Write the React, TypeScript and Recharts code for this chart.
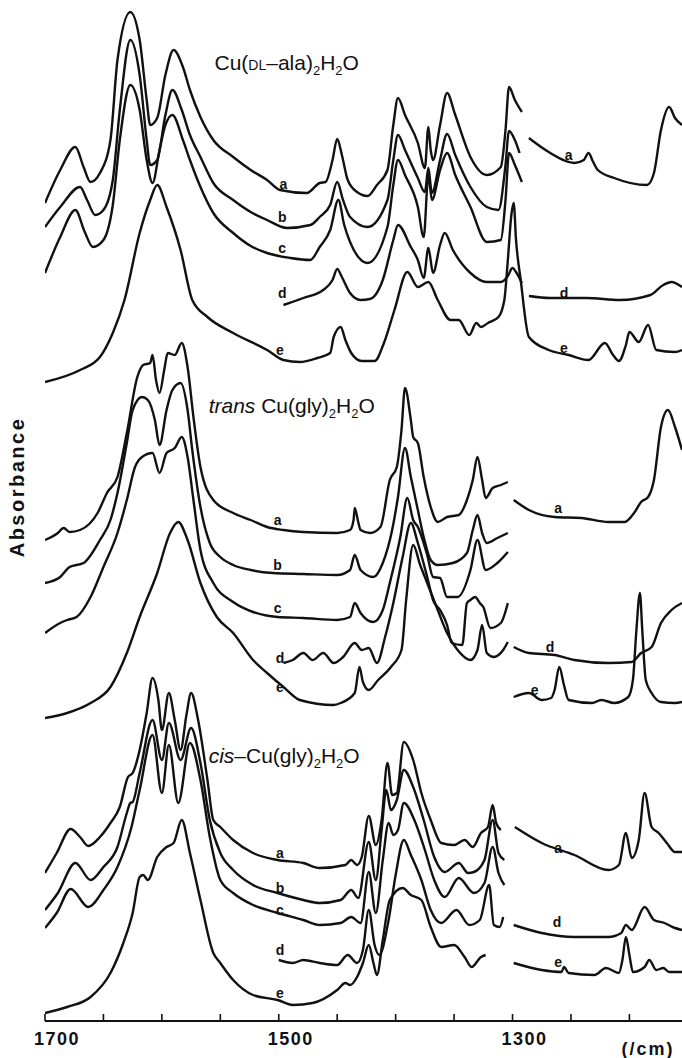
import React from "react";
import { LineChart, Line, XAxis, YAxis, ReferenceDot } from "recharts";

// wavenumber (/cm), absorbance (arbitrary units, stacked)
const alaA = [[1700,857],[1687,890],[1674,913],[1667,893],[1661,878],[1653,887],[1644,920],[1638,1000],[1627,1048],[1619,1020],[1613,960],[1610,935],[1604,942],[1597,985],[1590,1010],[1582,993],[1576,970],[1567,943],[1556,920],[1539,903],[1524,890],[1510,880],[1499,870],[1476,867],[1465,877],[1460,878],[1454,900],[1450,921],[1446,905],[1441,880],[1433,868],[1424,864],[1416,875],[1407,890],[1402,935],[1398,962],[1392,945],[1381,917],[1375,892],[1372,933],[1370,910],[1368,900],[1362,935],[1356,967],[1349,945],[1336,903],[1322,885],[1310,893],[1306,930],[1303,973],[1298,960],[1292,948]];
const alaARight = [[1286,922],[1269,908],[1247,897],[1239,900],[1235,907],[1231,898],[1227,890],[1213,882],[1185,875],[1179,887],[1173,930],[1166,953],[1161,942],[1155,935]];
const alaB = [[1700,833],[1687,853],[1670,873],[1664,860],[1657,845],[1650,850],[1642,880],[1636,950],[1627,1020],[1619,985],[1613,920],[1610,895],[1604,900],[1597,945],[1591,970],[1583,950],[1576,925],[1567,903],[1556,877],[1539,860],[1524,848],[1510,840],[1493,832],[1473,835],[1465,843],[1456,855],[1450,878],[1445,860],[1439,843],[1424,833],[1407,860],[1402,900],[1398,925],[1392,910],[1381,882],[1375,868],[1372,892],[1369,867],[1362,900],[1356,926],[1349,905],[1336,873],[1322,853],[1312,850],[1306,895],[1303,929],[1298,920],[1294,907]];
const alaC = [[1700,787],[1687,823],[1674,850],[1666,828],[1659,813],[1650,820],[1642,855],[1636,920],[1627,975],[1619,950],[1613,900],[1608,877],[1602,910],[1597,935],[1591,945],[1582,920],[1576,900],[1567,873],[1556,847],[1539,827],[1524,814],[1510,807],[1490,802],[1473,800],[1465,813],[1456,830],[1449,860],[1444,835],[1439,818],[1424,797],[1407,833],[1402,875],[1398,900],[1392,885],[1381,853],[1376,823],[1372,885],[1369,860],[1362,890],[1356,907],[1349,885],[1336,853],[1322,818],[1310,820],[1306,860],[1303,907],[1298,895],[1292,878]];
const alaD = [[1496,755],[1479,762],[1462,770],[1454,780],[1450,791],[1446,783],[1439,767],[1430,760],[1422,761],[1411,780],[1402,820],[1398,835],[1387,813],[1381,800],[1376,782],[1372,812],[1368,787],[1362,815],[1358,827],[1351,810],[1336,787],[1322,778],[1310,778],[1304,784],[1300,792],[1297,788],[1292,777]];
const alaDRight = [[1286,764],[1268,762],[1237,762],[1208,760],[1182,765],[1171,775],[1164,778],[1155,773]];
const alaE = [[1700,678],[1670,690],[1653,703],[1642,727],[1632,760],[1619,827],[1610,860],[1604,875],[1596,853],[1584,810],[1574,760],[1561,743],[1539,727],[1510,710],[1496,700],[1482,698],[1467,702],[1456,707],[1453,723],[1447,733],[1443,720],[1438,707],[1429,699],[1418,699],[1410,717],[1401,750],[1390,788],[1381,773],[1372,778],[1364,760],[1353,740],[1346,740],[1337,725],[1331,737],[1327,733],[1321,737],[1312,743],[1307,760],[1304,800],[1301,845],[1299,857],[1297,820],[1293,780],[1286,723],[1269,710],[1252,705],[1235,700],[1221,717],[1214,705],[1209,699],[1203,715],[1200,728],[1192,718],[1184,735],[1177,710],[1161,708],[1155,710]];

const transA = [[1700,520],[1689,527],[1684,532],[1679,528],[1670,530],[1655,547],[1647,567],[1638,583],[1630,627],[1621,683],[1616,695],[1610,697],[1608,705],[1605,680],[1602,667],[1598,690],[1595,707],[1589,705],[1583,717],[1578,693],[1573,643],[1567,593],[1556,560],[1539,547],[1524,540],[1510,533],[1496,530],[1479,528],[1450,527],[1439,530],[1436,540],[1435,552],[1432,538],[1430,530],[1422,527],[1413,533],[1405,580],[1399,593],[1395,630],[1392,672],[1387,640],[1385,623],[1381,617],[1376,583],[1370,553],[1364,538],[1356,543],[1346,545],[1339,560],[1334,580],[1330,603],[1326,580],[1323,562],[1317,572],[1310,575],[1304,578]];
const transARight = [[1299,560],[1286,550],[1264,543],[1241,542],[1218,538],[1204,538],[1196,547],[1190,558],[1184,563],[1179,580],[1173,633],[1167,650],[1161,633],[1155,610]];
const transB = [[1700,477],[1687,483],[1679,493],[1667,497],[1653,520],[1644,540],[1638,567],[1630,617],[1625,650],[1617,663],[1612,660],[1606,640],[1602,615],[1596,650],[1591,670],[1584,677],[1578,650],[1574,610],[1567,553],[1559,517],[1550,503],[1539,495],[1524,490],[1505,487],[1479,486],[1450,485],[1439,490],[1435,505],[1430,490],[1419,483],[1411,497],[1403,530],[1398,563],[1392,612],[1387,583],[1381,550],[1376,523],[1370,500],[1364,495],[1351,497],[1339,507],[1334,530],[1330,545],[1326,527],[1322,517],[1313,522],[1304,527]];
const transC = [[1700,427],[1687,437],[1681,440],[1673,443],[1661,463],[1650,493],[1638,527],[1630,560],[1623,593],[1617,603],[1608,607],[1602,587],[1596,607],[1589,612],[1583,623],[1578,603],[1573,560],[1567,510],[1556,477],[1539,458],[1522,448],[1501,443],[1479,442],[1450,440],[1439,443],[1435,457],[1430,447],[1419,438],[1411,450],[1405,477],[1396,523],[1390,562],[1385,540],[1381,533],[1373,505],[1368,483],[1362,482],[1356,463],[1347,463],[1336,490],[1330,520],[1323,490],[1313,497],[1304,508]];
const transD = [[1496,397],[1488,400],[1479,407],[1471,400],[1462,407],[1453,397],[1445,403],[1435,417],[1429,410],[1423,412],[1416,397],[1409,423],[1402,457],[1394,503],[1387,537],[1381,517],[1373,483],[1368,460],[1362,450],[1356,435],[1352,417],[1343,415],[1339,457],[1336,460],[1332,463],[1328,457],[1325,453],[1319,432],[1310,437],[1304,457]];
const transDRight = [[1299,413],[1286,407],[1264,405],[1247,400],[1218,397],[1198,398],[1190,407],[1181,413],[1173,437],[1164,450],[1155,457]];
const transE = [[1700,342],[1681,347],[1661,357],[1644,373],[1630,407],[1619,443],[1604,487],[1593,527],[1586,538],[1578,520],[1567,477],[1553,443],[1539,427],[1522,400],[1510,387],[1496,373],[1482,360],[1453,355],[1447,357],[1435,367],[1431,393],[1428,378],[1423,370],[1415,380],[1404,393],[1395,410],[1391,460],[1385,515],[1379,495],[1373,477],[1364,450],[1356,427],[1347,410],[1336,400],[1330,410],[1326,435],[1322,407],[1316,403],[1308,410],[1304,418]];
const transERight = [[1299,363],[1286,367],[1275,360],[1267,362],[1264,370],[1260,393],[1256,375],[1252,360],[1232,357],[1224,360],[1213,357],[1201,363],[1197,380],[1194,430],[1191,467],[1189,430],[1186,380],[1181,367],[1173,358],[1161,357],[1155,358]];

const cisA = [[1700,187],[1690,207],[1678,231],[1670,223],[1663,214],[1653,223],[1644,237],[1636,253],[1629,283],[1625,287],[1619,310],[1613,347],[1608,382],[1603,360],[1600,330],[1594,367],[1589,340],[1584,310],[1579,345],[1575,367],[1569,340],[1561,280],[1556,240],[1550,233],[1539,220],[1522,207],[1501,200],[1479,197],[1465,192],[1443,195],[1438,200],[1433,195],[1429,203],[1423,244],[1417,215],[1412,240],[1407,297],[1403,265],[1399,267],[1393,318],[1385,300],[1378,267],[1370,240],[1361,217],[1350,215],[1341,220],[1334,213],[1327,227],[1321,233],[1317,255],[1314,237],[1310,230]];
const cisARight = [[1298,233],[1275,217],[1247,205],[1218,190],[1209,195],[1203,227],[1198,202],[1192,220],[1187,267],[1181,233],[1175,227],[1168,217],[1161,208],[1155,208]];
const cisB = [[1700,150],[1689,167],[1674,197],[1661,180],[1650,193],[1638,213],[1630,247],[1627,257],[1625,258],[1619,287],[1608,340],[1600,300],[1594,337],[1584,300],[1575,332],[1567,297],[1559,240],[1550,207],[1539,190],[1522,175],[1501,167],[1479,160],[1465,157],[1447,160],[1438,170],[1432,162],[1423,218],[1417,180],[1412,230],[1408,270],[1404,250],[1399,260],[1393,290],[1385,273],[1376,240],[1367,203],[1358,188],[1346,197],[1338,187],[1333,188],[1324,200],[1317,240],[1312,207],[1307,200]];
const cisC = [[1700,132],[1690,147],[1678,171],[1663,153],[1650,170],[1638,193],[1626,233],[1619,270],[1608,325],[1600,267],[1594,315],[1586,257],[1576,317],[1567,280],[1559,223],[1550,180],[1539,167],[1522,155],[1501,147],[1479,140],[1465,135],[1447,137],[1438,143],[1430,137],[1423,188],[1417,147],[1411,200],[1406,237],[1402,225],[1398,230],[1393,257],[1384,240],[1375,210],[1367,180],[1358,163],[1346,182],[1333,167],[1324,177],[1317,213],[1312,187],[1307,175]];
const cisD = [[1500,100],[1488,97],[1479,100],[1465,97],[1450,95],[1441,105],[1433,97],[1428,110],[1423,150],[1418,115],[1414,105],[1406,140],[1400,185],[1393,220],[1387,205],[1378,180],[1370,150],[1361,137],[1348,150],[1337,135],[1328,140],[1320,175],[1316,135],[1311,133],[1308,143]];
const cisDRight = [[1299,135],[1275,127],[1247,123],[1218,123],[1207,127],[1203,135],[1198,130],[1187,153],[1179,140],[1170,137],[1161,132],[1155,130]];
const cisE = [[1700,47],[1681,53],[1661,63],[1644,87],[1633,117],[1625,147],[1619,183],[1616,185],[1612,180],[1604,203],[1596,213],[1590,217],[1583,240],[1576,207],[1567,160],[1556,107],[1550,97],[1539,80],[1522,65],[1501,60],[1488,55],[1471,57],[1450,70],[1443,77],[1439,75],[1433,83],[1428,97],[1423,115],[1419,97],[1416,85],[1411,120],[1405,160],[1394,172],[1387,165],[1378,160],[1370,133],[1361,113],[1350,115],[1341,103],[1335,93],[1327,103],[1323,105]];
const cisERight = [[1299,97],[1275,90],[1258,88],[1256,93],[1252,87],[1230,85],[1220,92],[1209,87],[1206,100],[1203,123],[1200,105],[1197,88],[1187,93],[1183,100],[1177,90],[1171,92],[1166,88],[1155,88]];

const spectra = [alaA, alaARight, alaB, alaC, alaD, alaDRight, alaE, transA, transARight, transB, transC, transD, transDRight, transE, transERight, cisA, cisARight, cisB, cisC, cisD, cisDRight, cisE, cisERight];

const curveLetters = ["a","b","c","d","e","a","d","e","a","b","c","d","e","a","d","e","a","b","c","d","e","a","d","e"];
const letterX = [1496,1497,1497,1497,1499,1252,1256,1256,1501,1501,1501,1499,1499,1261,1268,1281,1499,1499,1499,1499,1499,1261,1262,1261];
const letterY = [876,843,812,767,710,905,767,712,540,495,452,402,373,552,413,370,207,172,150,110,67,212,138,98];

const xTicks = [1700,1650,1600,1550,1500,1450,1400,1350,1300,1250,1200];
const labelledTicks = [1700, 1500, 1300];

const font = "'Liberation Sans', Arial, Helvetica, sans-serif";

const toPoints = (pts: number[][]) => pts.map(([x, y]) => ({ x, y }));

function BottomTick({ x, y, payload }: any) {
  const v = payload.value;
  return (
    <g>
      <line x1={x} x2={x} y1={y} y2={y - 7} stroke="#111" strokeWidth={1.6} />
      {labelledTicks.includes(v) && (
        <text x={x + 12} y={y + 24} textAnchor="middle" fontFamily={font} fontWeight="bold" fontSize={18} letterSpacing={1.5} fill="#111">
          {v}
        </text>
      )}
    </g>
  );
}

function TopTick({ x, y }: any) {
  return <line x1={x} x2={x} y1={y} y2={y + 6} stroke="#111" strokeWidth={1.6} />;
}

function Formula({ cx, cy, kind }: any) {
  const sub = { fontSize: 13, dy: 5 };
  if (kind === "ala") {
    return (
      <text x={cx} y={cy} fontFamily={font} fontSize={21} fill="#111">
        Cu(<tspan fontSize={14}>DL</tspan>–ala)<tspan {...sub}>2</tspan><tspan dy={-5}>H</tspan><tspan {...sub}>2</tspan><tspan dy={-5}>O</tspan>
      </text>
    );
  }
  if (kind === "trans") {
    return (
      <text x={cx} y={cy} fontFamily={font} fontSize={21} fill="#111">
        <tspan fontStyle="italic">trans</tspan> Cu(gly)<tspan {...sub}>2</tspan><tspan dy={-5}>H</tspan><tspan {...sub}>2</tspan><tspan dy={-5}>O</tspan>
      </text>
    );
  }
  return (
    <text x={cx} y={cy} fontFamily={font} fontSize={21} fill="#111">
      <tspan fontStyle="italic">cis</tspan>–Cu(gly)<tspan {...sub}>2</tspan><tspan dy={-5}>H</tspan><tspan {...sub}>2</tspan><tspan dy={-5}>O</tspan>
    </text>
  );
}

const titles = [
  { kind: "ala", x: 1555, y: 990 },
  { kind: "trans", x: 1560, y: 647 },
  { kind: "cis", x: 1560, y: 297 },
];

export default function App() {
  return (
    <div style={{ position: "absolute", left: 0, top: 0, width: 682, height: 1058, background: "#fff" }}>
      <LineChart width={682} height={1058} margin={{ top: 11, right: 0, left: 45, bottom: 0 }}>
        <XAxis
          type="number"
          dataKey="x"
          domain={[1155, 1700]}
          reversed
          allowDataOverflow
          ticks={xTicks}
          interval={0}
          height={37}
          tickLine={false}
          tickSize={0}
          tickMargin={0}
          axisLine={{ stroke: "#111", strokeWidth: 2.2 }}
          tick={<BottomTick />}
        />
        <XAxis
          xAxisId="top"
          orientation="top"
          type="number"
          dataKey="x"
          domain={[1155, 1700]}
          reversed
          allowDataOverflow
          ticks={xTicks}
          interval={0}
          height={0}
          tickLine={false}
          tickSize={0}
          tickMargin={0}
          axisLine={{ stroke: "#111", strokeWidth: 2 }}
          tick={<TopTick />}
        />
        <YAxis
          type="number"
          domain={[39, 1049]}
          allowDataOverflow
          width={0}
          tick={false}
          tickLine={false}
          axisLine={{ stroke: "#111", strokeWidth: 2.2 }}
        />
        {spectra.map((s, i) => (
          <Line
            key={i}
            data={toPoints(s)}
            dataKey="y"
            type="monotone"
            dot={false}
            stroke="#111"
            strokeWidth={2.4}
            isAnimationActive={false}
          />
        ))}
        {curveLetters.map((t, i) => (
          <ReferenceDot
            key={"l" + i}
            x={letterX[i]}
            y={letterY[i]}
            r={0}
            shape={(p: any) => (
              <text x={p.cx} y={p.cy + 5} textAnchor="middle" fontFamily={font} fontWeight="bold" fontSize={14} fill="#111">
                {t}
              </text>
            )}
          />
        ))}
        {titles.map((t) => (
          <ReferenceDot key={t.kind} x={t.x} y={t.y} r={0} shape={(p: any) => <Formula cx={p.cx} cy={p.cy} kind={t.kind} />} />
        ))}
      </LineChart>
      <svg width={682} height={1058} style={{ position: "absolute", left: 0, top: 0, pointerEvents: "none" }}>
        <text
          transform="translate(24,487) rotate(-90)"
          textAnchor="middle"
          fontFamily={font}
          fontWeight="bold"
          fontSize={20}
          letterSpacing={2.5}
          fill="#111"
        >
          Absorbance
        </text>
        <text x={648} y={1055} textAnchor="middle" fontFamily={font} fontWeight="bold" fontSize={18} letterSpacing={2} fill="#111">
          (/cm)
        </text>
      </svg>
    </div>
  );
}
